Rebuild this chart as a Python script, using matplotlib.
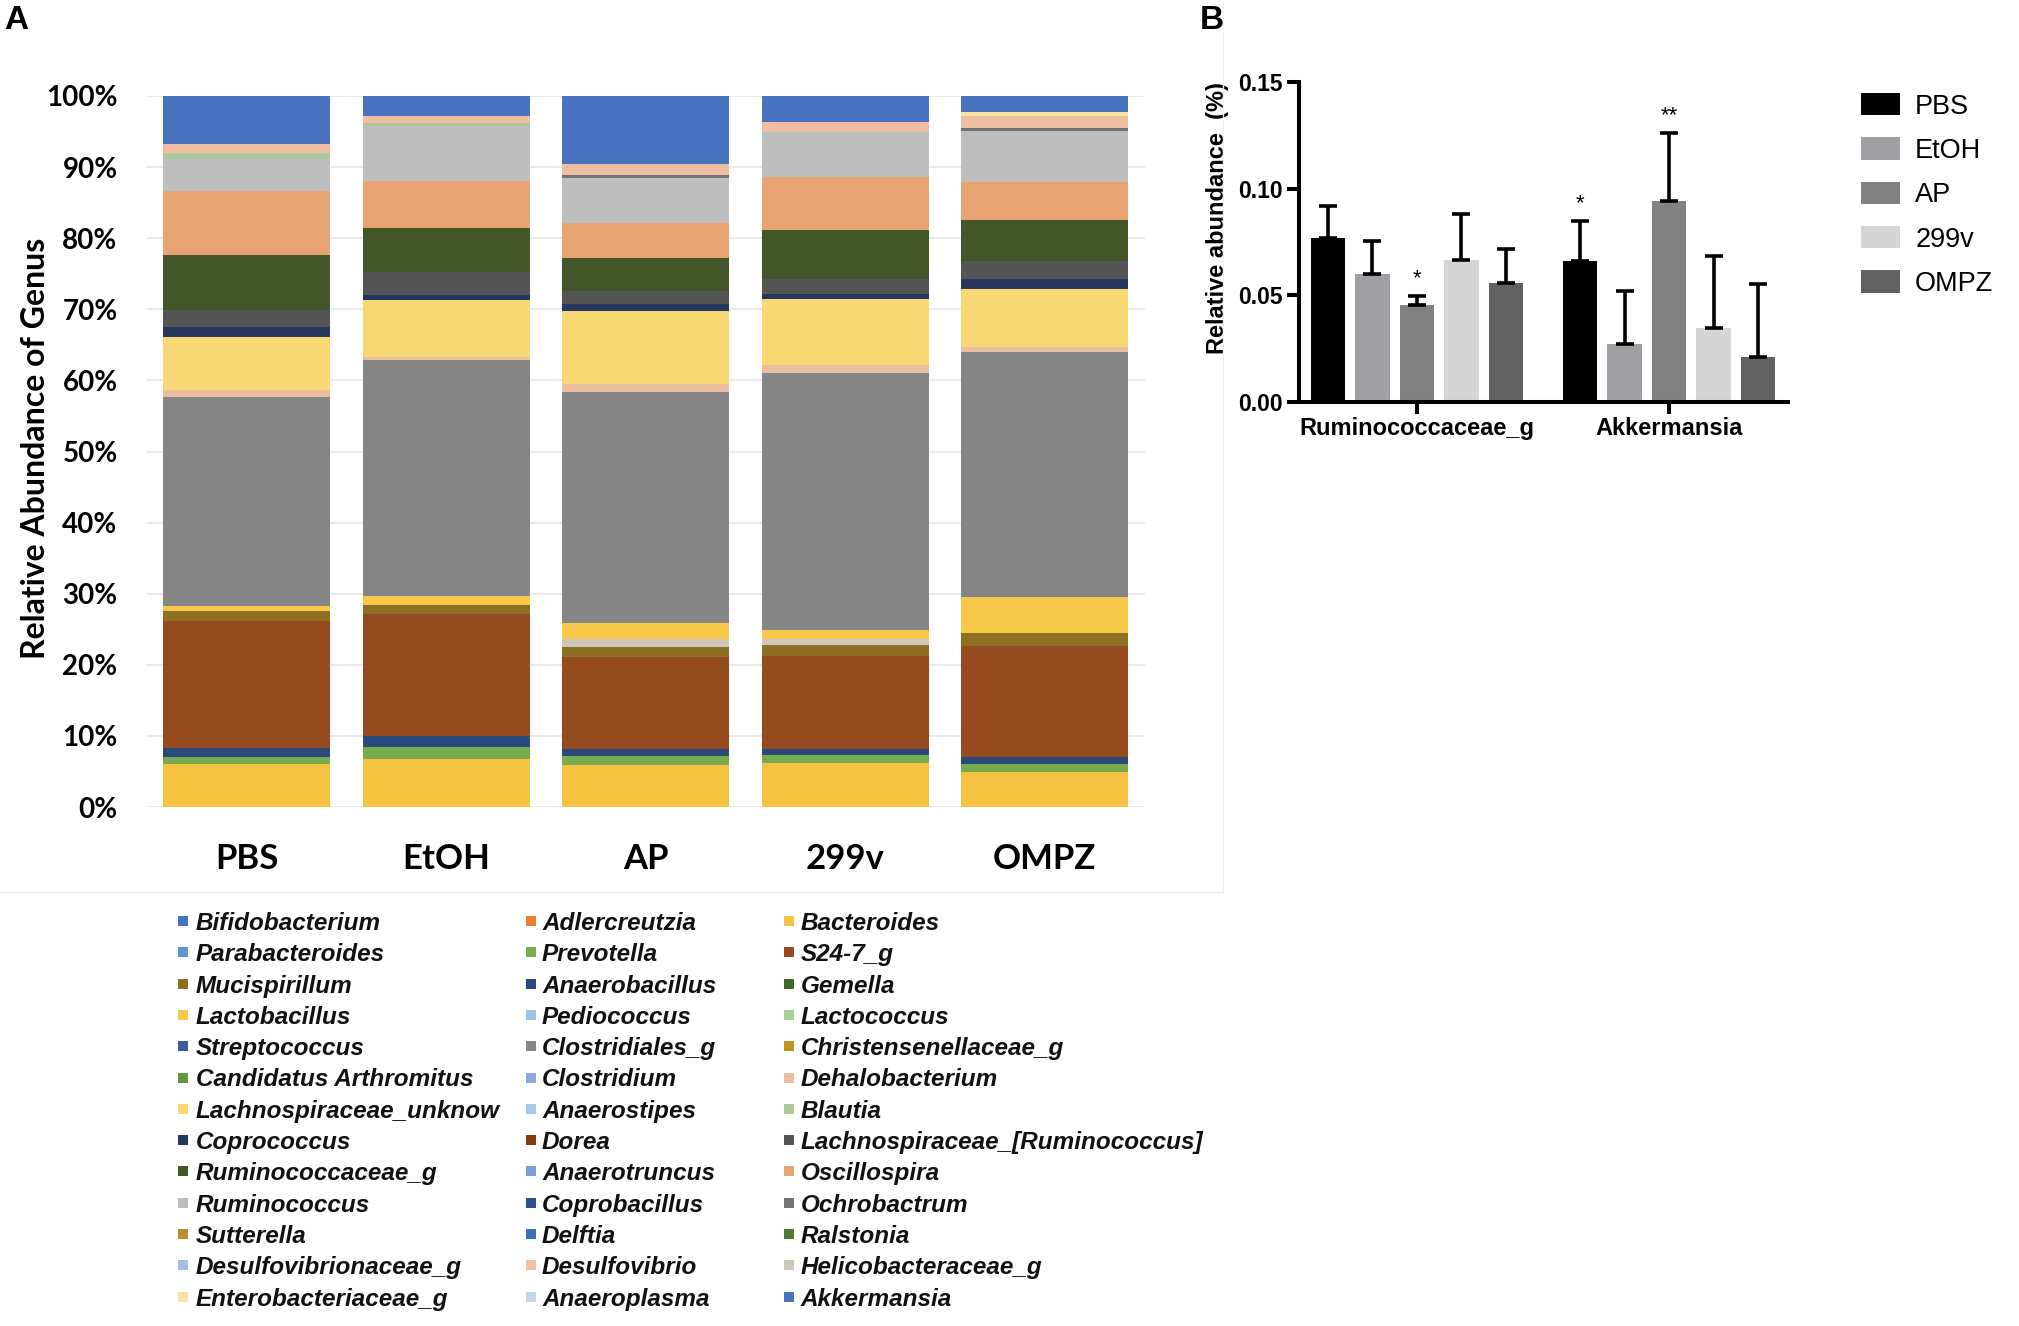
import numpy as np
import matplotlib
matplotlib.use('Agg')
import matplotlib.pyplot as plt
from matplotlib.ticker import PercentFormatter, FormatStrFormatter
from matplotlib.patches import Rectangle
from matplotlib.lines import Line2D

W, H = 2019, 1326

# ---- panel A data (relative abundance of genus, %) ----
groups = ['PBS', 'EtOH', 'AP', '299v', 'OMPZ']

legend_genera = [
    'Bifidobacterium', 'Adlercreutzia', 'Bacteroides',
    'Parabacteroides', 'Prevotella', 'S24-7_g',
    'Mucispirillum', 'Anaerobacillus', 'Gemella',
    'Lactobacillus', 'Pediococcus', 'Lactococcus',
    'Streptococcus', 'Clostridiales_g', 'Christensenellaceae_g',
    'Candidatus Arthromitus', 'Clostridium', 'Dehalobacterium',
    'Lachnospiraceae_unknow', 'Anaerostipes', 'Blautia',
    'Coprococcus', 'Dorea', 'Lachnospiraceae_[Ruminococcus]',
    'Ruminococcaceae_g', 'Anaerotruncus', 'Oscillospira',
    'Ruminococcus', 'Coprobacillus', 'Ochrobactrum',
    'Sutterella', 'Delftia', 'Ralstonia',
    'Desulfovibrionaceae_g', 'Desulfovibrio', 'Helicobacteraceae_g',
    'Enterobacteriaceae_g', 'Anaeroplasma', 'Akkermansia',
]
legend_colors = [
    '#4472C4', '#ED7D31', '#F5C242',
    '#5B9BD5', '#78AB50', '#974A1E',
    '#8F7022', '#2A4A7C', '#43682B',
    '#F7C84A', '#9DC3E6', '#A9D18E',
    '#3A5BA0', '#868686', '#C09420',
    '#5E9A3E', '#8EA9DB', '#EBBE9F',
    '#F8D775', '#A8C8E8', '#ADC99A',
    '#26375E', '#843C0C', '#555555',
    '#42562A', '#7F9ED8', '#E8A573',
    '#BEBEBE', '#2E4D8C', '#737373',
    '#B8902A', '#3A73B5', '#4F7A33',
    '#A9BCE3', '#F0BFA2', '#CFC8BA',
    '#FBE3A6', '#BDD7EE', '#4A73BF',
]

# bands as stacked in the bars, bottom to top
stack_genera = [
    'Bacteroides', 'Prevotella', 'Anaerobacillus', 'S24-7_g', 'Mucispirillum',
    'Helicobacteraceae_g', 'Lactobacillus', 'Clostridiales_g', 'Dehalobacterium',
    'Lachnospiraceae_unknow', 'Coprococcus', 'Lachnospiraceae_[Ruminococcus]',
    'Ruminococcaceae_g', 'Oscillospira', 'Ruminococcus', 'Ochrobactrum',
    'Blautia', 'Desulfovibrio', 'Enterobacteriaceae_g', 'Akkermansia',
]
#                PBS   EtOH   AP   299v  OMPZ
stack_values = [
    [6.0, 6.8, 5.9, 6.2, 4.9],
    [1.1, 1.7, 1.3, 1.1, 1.1],
    [1.2, 1.5, 1.0, 0.9, 1.1],
    [17.9, 17.2, 12.9, 13.0, 15.6],
    [1.3, 1.2, 1.4, 1.6, 1.8],
    [0.0, 0.0, 1.1, 0.8, 0.0],
    [0.8, 1.3, 2.3, 1.3, 5.1],
    [29.4, 33.2, 32.5, 36.2, 34.4],
    [0.9, 0.4, 1.1, 1.1, 0.7],
    [7.5, 8.0, 10.3, 9.3, 8.2],
    [1.4, 0.7, 0.9, 0.7, 1.3],
    [2.4, 3.2, 1.9, 2.1, 2.6],
    [7.8, 6.3, 4.6, 6.9, 5.8],
    [8.9, 6.6, 4.9, 7.4, 5.3],
    [4.6, 7.7, 6.4, 6.4, 7.2],
    [0.0, 0.0, 0.4, 0.0, 0.4],
    [0.8, 0.4, 0.0, 0.0, 0.0],
    [1.2, 1.0, 1.6, 1.4, 1.7],
    [0.0, 0.0, 0.0, 0.0, 0.6],
    [6.8, 2.8, 9.5, 3.6, 2.2],
]

# ---- panel B data (relative abundance, mean and SD) ----
b_genera = ['Ruminococcaceae_g', 'Akkermansia']
b_colors = ['#000000', '#A0A0A4', '#818181', '#D5D5D5', '#626262']
b_means = [[0.0771, 0.0663],   # PBS
           [0.0602, 0.0274],   # EtOH
           [0.0457, 0.0943],   # AP
           [0.0664, 0.0347],   # 299v
           [0.0558, 0.0211]]   # OMPZ
b_sds = [[0.0148, 0.0186],
         [0.0151, 0.0245],
         [0.0040, 0.0316],
         [0.0216, 0.0338],
         [0.0161, 0.0341]]
b_stars = [('AP', 0, '*'), ('PBS', 1, '*'), ('AP', 1, '**')]

calibri_like = ['Lato', 'DejaVu Sans']
arial_like = ['Liberation Sans', 'DejaVu Sans']

fig = plt.figure(figsize=(W / 100, H / 100), dpi=100)

# ================= panel A =================
axA = fig.add_axes([146.7 / W, (H - 807) / H, 998 / W, 711 / H])
color_of = dict(zip(legend_genera, legend_colors))
x = np.arange(len(groups))
bottom = np.zeros(len(groups))
for name, vals in zip(stack_genera, stack_values):
    vals = np.array(vals)
    axA.bar(x, vals, width=0.837, bottom=bottom, color=color_of[name],
            linewidth=0, zorder=3)
    bottom += vals

axA.set_xlim(-0.5, 4.5)
axA.set_ylim(0, 100)
axA.set_yticks(np.arange(0, 101, 10))
axA.yaxis.set_major_formatter(PercentFormatter(decimals=0))
axA.set_xticks(x)
axA.set_xticklabels(groups)
axA.grid(axis='y', color='#E6E6E6', linewidth=1.2, zorder=0)
for s in axA.spines.values():
    s.set_visible(False)
axA.tick_params(axis='y', length=0, pad=21, labelsize=20)
axA.tick_params(axis='x', length=0, pad=26, labelsize=25)
for lab in axA.get_yticklabels() + axA.get_xticklabels():
    lab.set_fontfamily(calibri_like)
    lab.set_fontweight('bold')
axA.set_ylabel('Relative Abundance of Genus', fontsize=23, fontweight='bold',
               family=calibri_like)
axA.yaxis.set_label_coords(-0.097, 0.505)

# legend of panel A, row by row in three columns
col_marker_x = [178, 526, 784]
col_text_x = [196, 542, 801]
for i, (name, c) in enumerate(zip(legend_genera, legend_colors)):
    row, col = divmod(i, 3)
    yc = 921 + 31.3 * row
    fig.add_artist(Rectangle((col_marker_x[col] / W, 1 - (yc + 5) / H),
                             10 / W, 10 / H, transform=fig.transFigure,
                             facecolor=c, edgecolor='none'))
    fig.text(col_text_x[col] / W, 1 - yc / H, name, fontsize=17.5,
             fontweight='bold', fontstyle='italic', family=arial_like,
             va='center_baseline', ha='left', color='#111111')

# faint frame of the panel A chart area
fig.add_artist(Line2D([0, 1223 / W], [1 - 892 / H, 1 - 892 / H],
                      transform=fig.transFigure, color='#F0F0F0', lw=1))
fig.add_artist(Line2D([1223 / W, 1223 / W], [1 - 892 / H, 1],
                      transform=fig.transFigure, color='#F0F0F0', lw=1))

# ================= panel B =================
axB = fig.add_axes([1299 / W, (H - 402) / H, 489 / W, 320 / H])
pitch = 0.1766
bw = 0.137
gx = np.arange(len(b_genera))
for i, g in enumerate(groups):
    xs = gx + (i - 2) * pitch
    means = np.array(b_means[i])
    sds = np.array(b_sds[i])
    axB.bar(xs, means, width=bw, color=b_colors[i], linewidth=0, zorder=2,
            label=g)
    axB.errorbar(xs, means, yerr=[np.zeros_like(sds), sds], fmt='none',
                 ecolor='black', elinewidth=2.6, capsize=6.4, capthick=2.6,
                 zorder=3)

for g, j, mark in b_stars:
    i = groups.index(g)
    xs = gx[j] + (i - 2) * pitch
    top = b_means[i][j] + b_sds[i][j]
    axB.text(xs, top + 0.0055, mark, ha='center', va='baseline', fontsize=16,
             family=arial_like)

axB.set_xlim(-0.468, 1.472)
axB.set_ylim(0, 0.15)
axB.set_yticks([0, 0.05, 0.10, 0.15])
axB.yaxis.set_major_formatter(FormatStrFormatter('%.2f'))
axB.set_xticks(gx)
axB.set_xticklabels(b_genera)
axB.spines['top'].set_visible(False)
axB.spines['right'].set_visible(False)
axB.spines['left'].set_linewidth(2.9)
axB.spines['bottom'].set_linewidth(2.9)
axB.tick_params(axis='both', length=8.6, width=2.9, direction='out')
axB.tick_params(axis='y', pad=3, labelsize=16.5)
axB.tick_params(axis='x', pad=2, labelsize=17)
for lab in axB.get_yticklabels() + axB.get_xticklabels():
    lab.set_fontfamily(arial_like)
    lab.set_fontweight('bold')
axB.set_ylabel('Relative abundance  (%)', fontsize=17, fontweight='bold',
               family=arial_like)
axB.yaxis.set_label_coords(-0.143, 0.575)

handles = [Rectangle((0, 0), 1, 1, facecolor=c, edgecolor='none')
           for c in b_colors]
fig.legend(handles, groups, loc='upper left',
           bbox_to_anchor=(1861 / W, 1 - 93 / H), bbox_transform=fig.transFigure,
           frameon=False, borderpad=0, borderaxespad=0,
           handlelength=1.45, handleheight=0.9, handletextpad=0.55,
           labelspacing=0.655, prop={'family': arial_like, 'size': 19.5})

# panel letters
fig.text(4 / W, 1 - 5 / H, 'A', fontsize=24, fontweight='bold',
         family=arial_like, va='top', ha='left')
fig.text(1200 / W, 1 - 5 / H, 'B', fontsize=24, fontweight='bold',
         family=arial_like, va='top', ha='left')

fig.savefig('out.png', dpi=100, facecolor='white')
